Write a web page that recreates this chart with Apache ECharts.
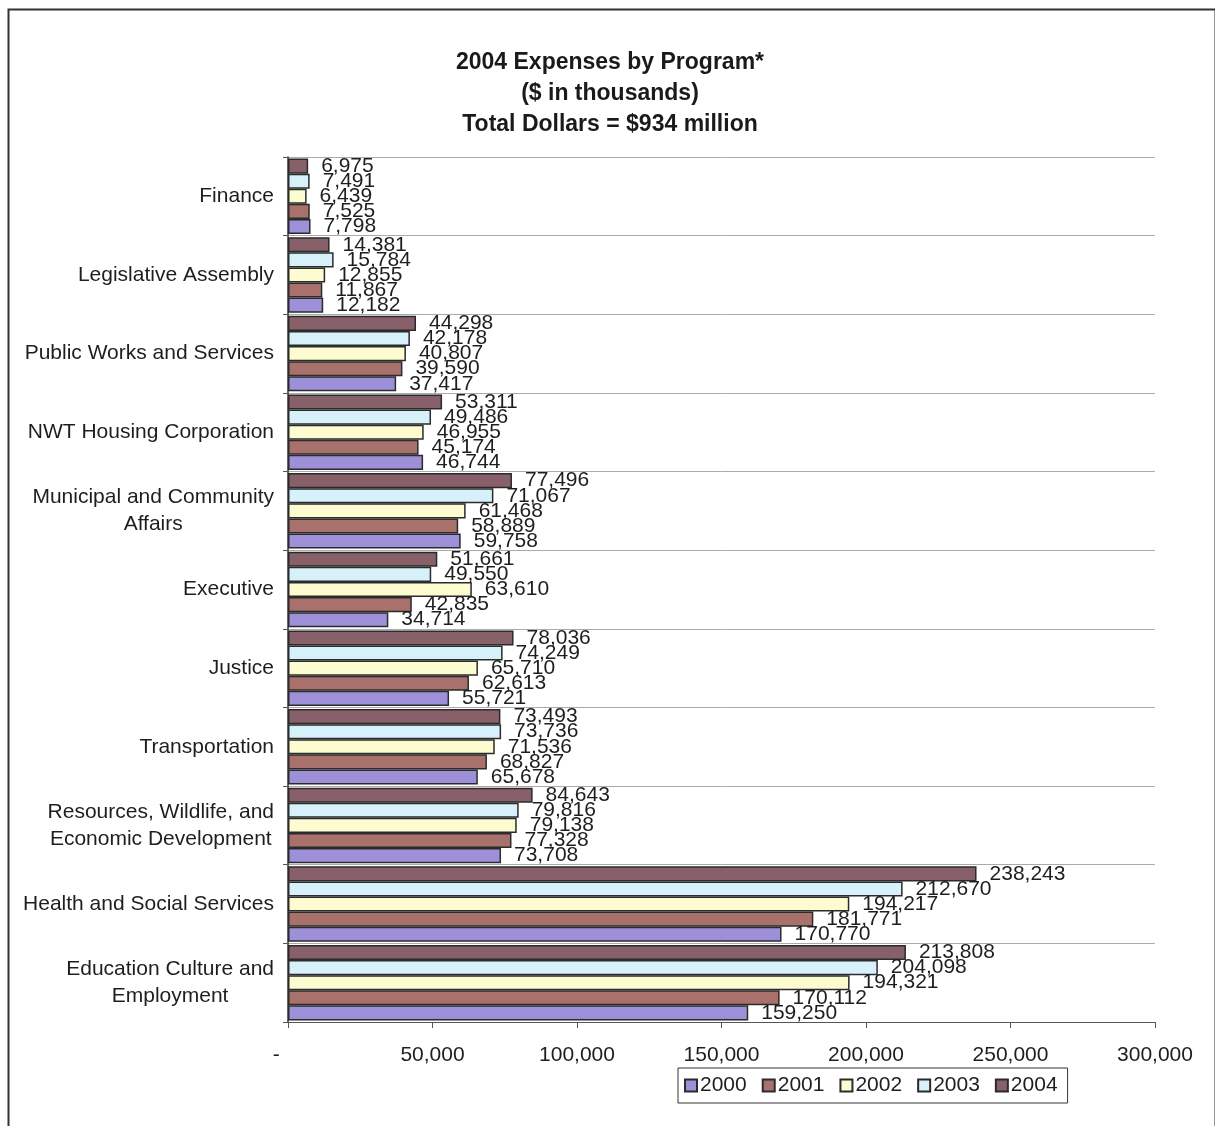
<!DOCTYPE html>
<html>
<head>
<meta charset="utf-8">
<title>2004 Expenses by Program</title>
<script src="https://cdn.jsdelivr.net/npm/echarts@6/dist/echarts.min.js"></script>
<style>
  html, body { margin: 0; padding: 0; background: #fff; }
  #chart { width: 1215px; height: 1126px; }
</style>
</head>
<body>
<div id="chart"></div>
<script>
// Programs, listed top to bottom
const programs = [
  'Finance',
  'Legislative Assembly',
  'Public Works and Services',
  'NWT Housing Corporation',
  'Municipal and Community\nAffairs',
  'Executive',
  'Justice',
  'Transportation',
  'Resources, Wildlife, and\nEconomic Development',
  'Health and Social Services',
  'Education Culture and\nEmployment'
];

// Expenses per fiscal year ($ in thousands), same order as programs
const years = ['2000', '2001', '2002', '2003', '2004'];
const exp2000 = [7798, 12182, 37417, 46744, 59758, 34714, 55721, 65678, 73708, 170770, 159250];
const exp2001 = [7525, 11867, 39590, 45174, 58889, 42835, 62613, 68827, 77328, 181771, 170112];
const exp2002 = [6439, 12855, 40807, 46955, 61468, 63610, 65710, 71536, 79138, 194217, 194321];
const exp2003 = [7491, 15784, 42178, 49486, 71067, 49550, 74249, 73736, 79816, 212670, 204098];
const exp2004 = [6975, 14381, 44298, 53311, 77496, 51661, 78036, 73493, 84643, 238243, 213808];

const xTicks = [0, 50000, 100000, 150000, 200000, 250000, 300000];

const yearColors = {
  '2000': '#9e90d8',
  '2001': '#a9716c',
  '2002': '#fdfbd0',
  '2003': '#d7f1fb',
  '2004': '#876069'
};

const FONT = '"Liberation Sans", Arial, sans-serif';
const fmt = v => Number(v).toLocaleString('en-US');

function barSeries(name, values) {
  return {
    name: name,
    type: 'bar',
    data: values,
    barGap: '0%',
    barCategoryGap: '4%',
    itemStyle: { color: yearColors[name], borderColor: '#2b2b2b', borderWidth: 1.5 },
    label: {
      show: true,
      position: 'right',
      distance: 13,
      fontFamily: FONT,
      fontSize: 21,
      color: '#1e1e1e',
      formatter: p => fmt(p.value)
    }
  };
}

const chart = echarts.init(document.getElementById('chart'), null, { renderer: 'canvas' });

chart.setOption({
  animation: false,
  backgroundColor: '#fff',
  textStyle: { fontFamily: FONT },
  title: {
    text: '2004 Expenses by Program*\n($ in thousands)\nTotal Dollars = $934 million',
    left: 610,
    top: 47,
    padding: 0,
    textAlign: 'center',
    textStyle: {
      fontFamily: FONT,
      fontSize: 23,
      fontWeight: 'bold',
      lineHeight: 31,
      color: '#1a1a1a'
    }
  },
  legend: {
    data: years,
    left: 678,
    top: 1068,
    orient: 'horizontal',
    itemWidth: 12,
    itemHeight: 12,
    itemGap: 15,
    padding: [7, 10, 7, 6],
    borderColor: '#333',
    borderWidth: 1,
    icon: 'rect',
    textStyle: { fontFamily: FONT, fontSize: 21, color: '#1e1e1e', padding: [0, 0, 0, -2] }
  },
  grid: { left: 288, right: 60, top: 157, bottom: 104, containLabel: false },
  xAxis: {
    type: 'value',
    min: xTicks[0],
    max: xTicks[xTicks.length - 1],
    interval: xTicks[1] - xTicks[0],
    axisLine: { show: true, lineStyle: { color: '#555', width: 1 } },
    axisTick: { show: true, length: 6, lineStyle: { color: '#555' } },
    splitLine: { show: false },
    axisLabel: {
      fontFamily: FONT,
      fontSize: 21,
      color: '#1e1e1e',
      margin: 23,
      formatter: v => (v === 0 ? '-    ' : fmt(v))
    }
  },
  yAxis: {
    type: 'category',
    data: programs,
    inverse: true,
    axisLine: { show: true, lineStyle: { color: '#333', width: 1.5 } },
    axisTick: { show: true, length: 5, alignWithLabel: false, lineStyle: { color: '#555' } },
    splitLine: { show: true, lineStyle: { color: '#aaa', width: 1 } },
    axisLabel: {
      fontFamily: FONT,
      fontSize: 21,
      color: '#1e1e1e',
      margin: 14,
      lineHeight: 27,
      formatter: v => v.split('\n').map(s => '{c|' + s + '}').join('\n'),
      rich: { c: { align: 'center', fontFamily: FONT, fontSize: 21, color: '#1e1e1e', lineHeight: 27 } }
    }
  },
  series: [
    barSeries('2004', exp2004),
    barSeries('2003', exp2003),
    barSeries('2002', exp2002),
    barSeries('2001', exp2001),
    barSeries('2000', exp2000)
  ],
  graphic: [{
    type: 'rect',
    left: 6,
    top: 7,
    shape: { width: 1207, height: 1130 },
    style: { fill: 'none', stroke: '#333', lineWidth: 2 },
    silent: true,
    z: -1
  }]
});
</script>
</body>
</html>
